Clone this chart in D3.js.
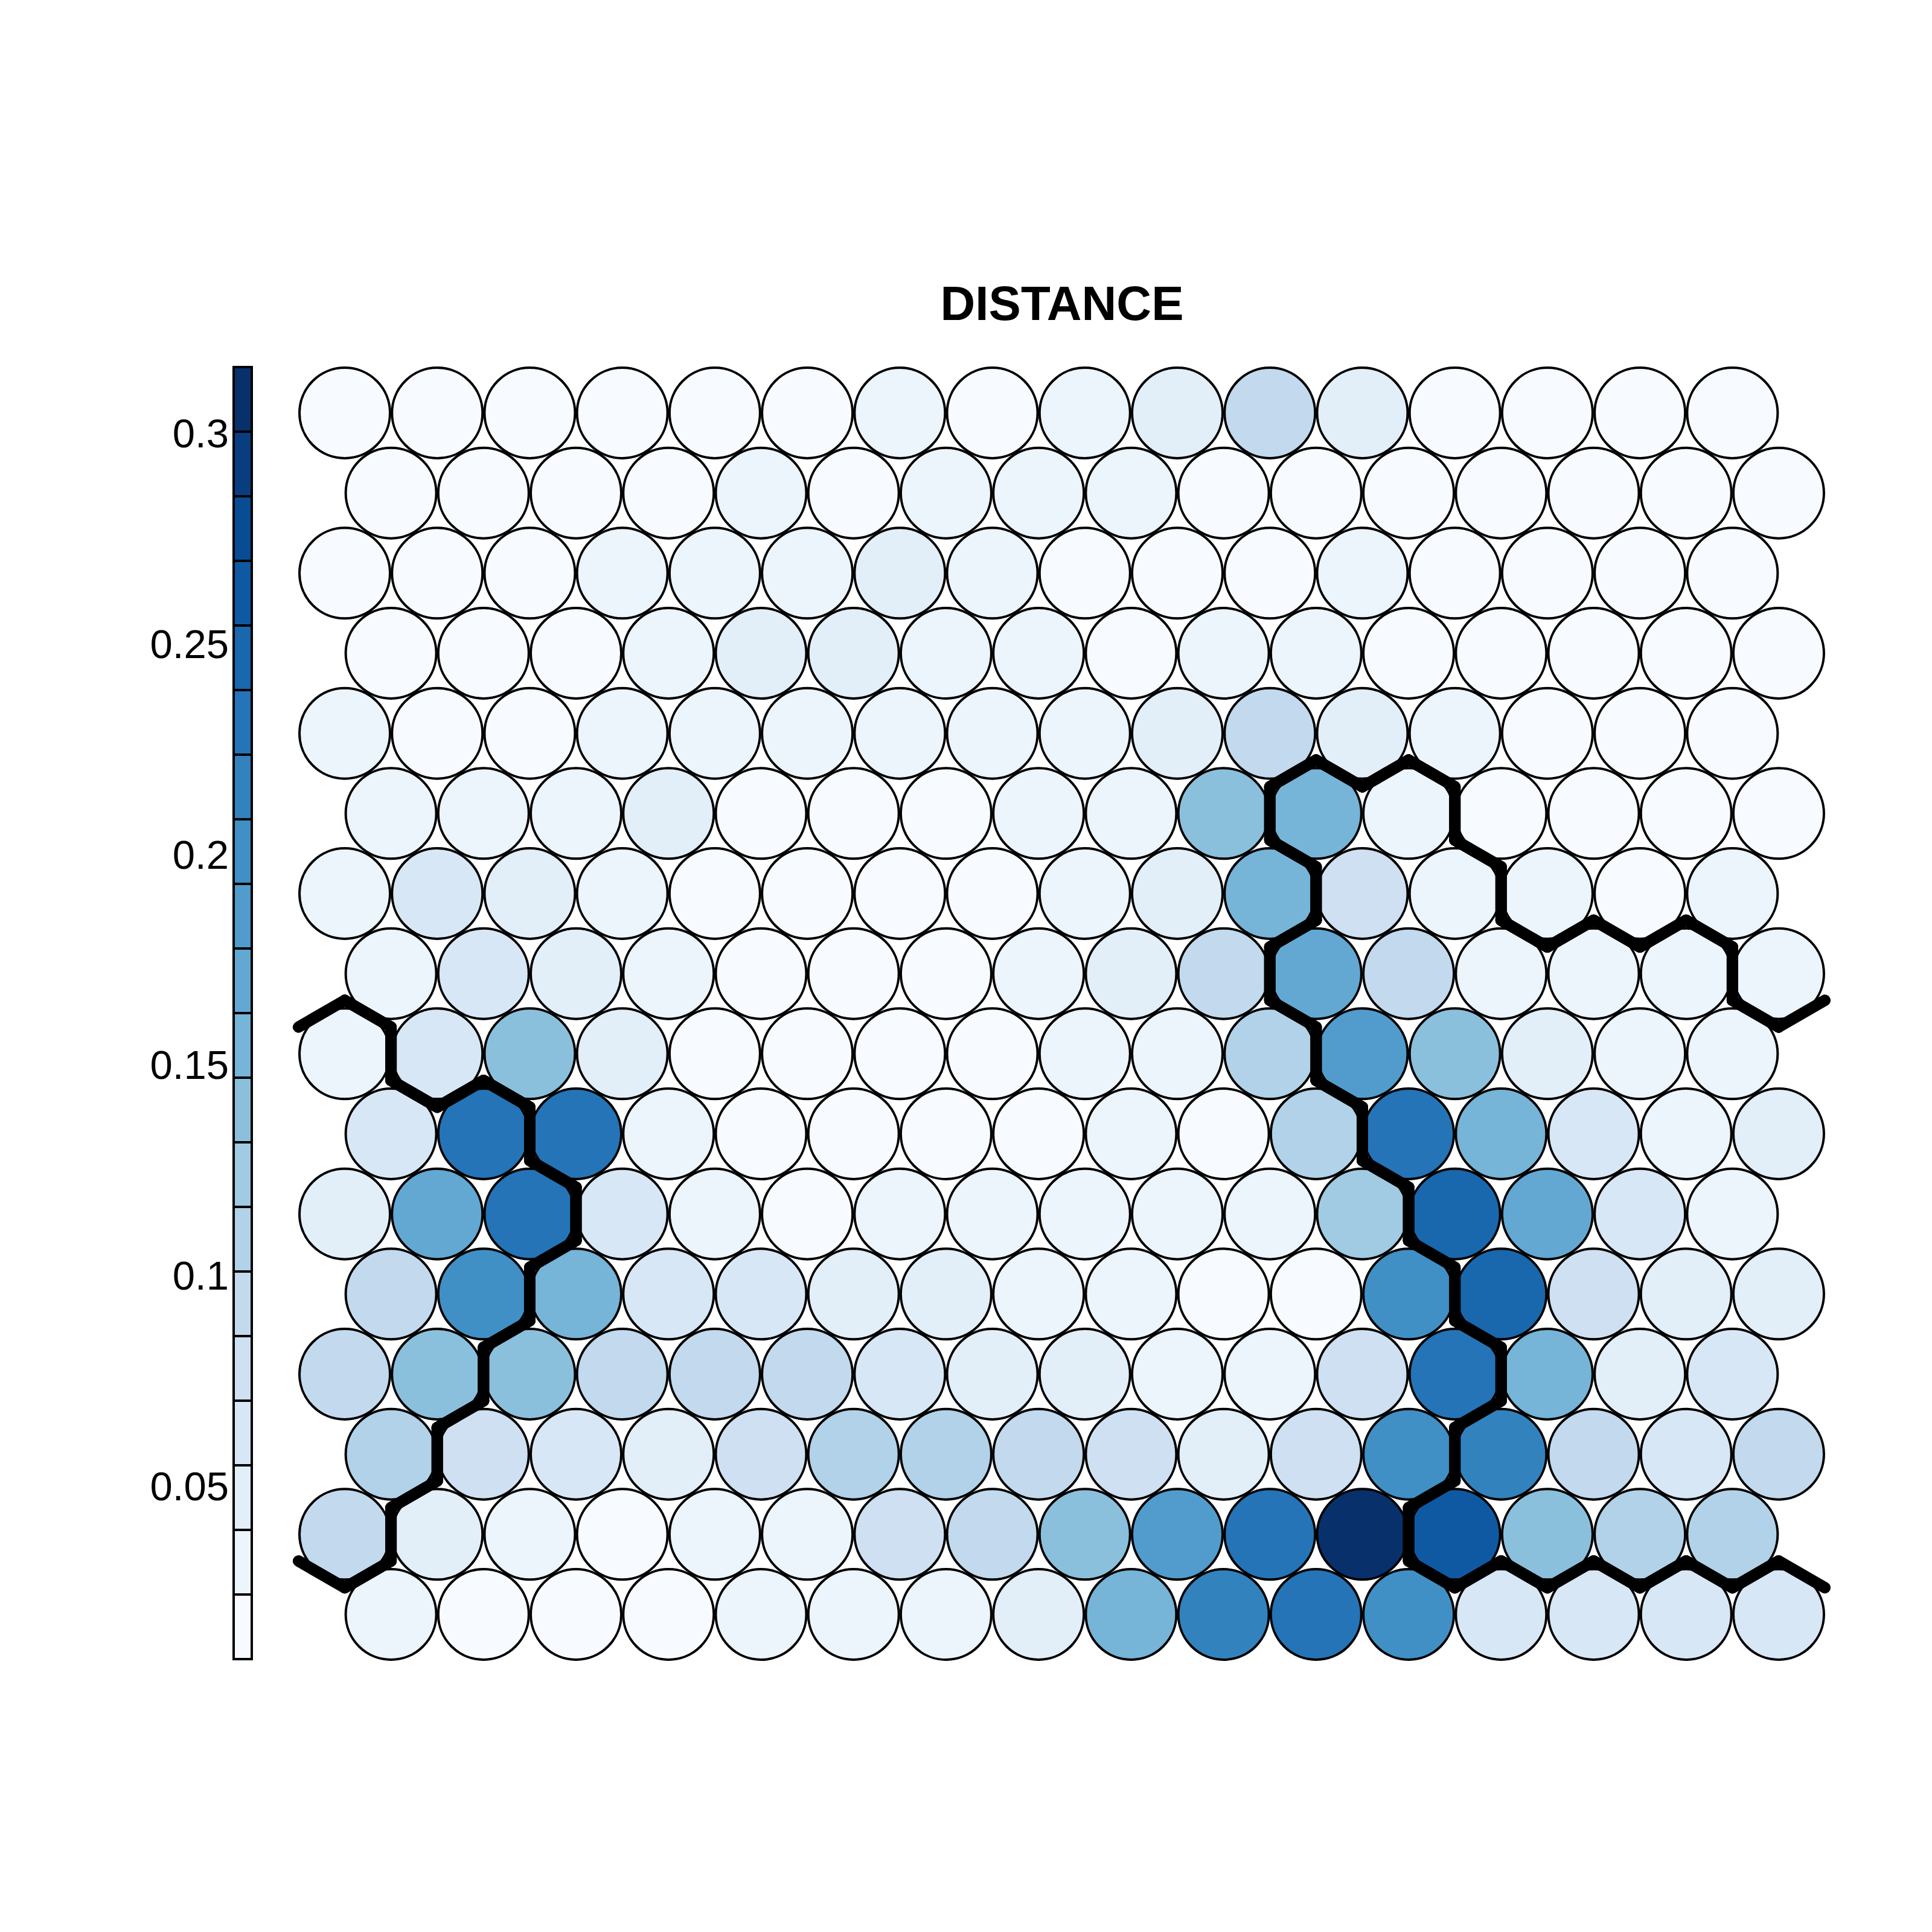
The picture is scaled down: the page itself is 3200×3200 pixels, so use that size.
<!DOCTYPE html>
<html>
<head>
<meta charset="utf-8">
<script src="https://cdn.jsdelivr.net/npm/d3@7"></script>
<style>
  html, body { margin: 0; background: #fff; }
  text { font-family: "Liberation Sans", Arial, sans-serif; fill: #000; }
</style>
</head>
<body>
<script>
const TITLE = "DISTANCE";
const legendTicks = [0.05, 0.1, 0.15, 0.2, 0.25, 0.3];
const legendDomain = [0.0087, 0.3156];
const levelCount = 20;

// neighbour distance per unit, top row first
const row01 = [0.016, 0.016, 0.016, 0.016, 0.016, 0.016, 0.031, 0.016, 0.031, 0.047, 0.093, 0.047, 0.016, 0.016, 0.016, 0.016];
const row02 = [0.016, 0.016, 0.016, 0.016, 0.031, 0.016, 0.031, 0.031, 0.031, 0.016, 0.016, 0.016, 0.016, 0.016, 0.016, 0.016];
const row03 = [0.016, 0.016, 0.016, 0.031, 0.031, 0.031, 0.047, 0.031, 0.016, 0.016, 0.016, 0.031, 0.016, 0.016, 0.016, 0.016];
const row04 = [0.016, 0.016, 0.016, 0.031, 0.047, 0.047, 0.031, 0.031, 0.016, 0.031, 0.031, 0.016, 0.016, 0.016, 0.016, 0.016];
const row05 = [0.031, 0.016, 0.016, 0.031, 0.031, 0.031, 0.031, 0.031, 0.031, 0.047, 0.093, 0.047, 0.031, 0.016, 0.016, 0.016];
const row06 = [0.031, 0.031, 0.031, 0.047, 0.016, 0.016, 0.016, 0.031, 0.031, 0.139, 0.154, 0.031, 0.016, 0.016, 0.016, 0.016];
const row07 = [0.031, 0.062, 0.047, 0.031, 0.016, 0.016, 0.016, 0.016, 0.031, 0.047, 0.154, 0.078, 0.031, 0.031, 0.016, 0.031];
const row08 = [0.031, 0.062, 0.047, 0.031, 0.016, 0.016, 0.016, 0.031, 0.047, 0.093, 0.170, 0.093, 0.031, 0.031, 0.031, 0.031];
const row09 = [0.031, 0.062, 0.139, 0.047, 0.016, 0.016, 0.016, 0.016, 0.031, 0.031, 0.108, 0.185, 0.139, 0.047, 0.031, 0.031];
const row10 = [0.062, 0.231, 0.231, 0.031, 0.016, 0.016, 0.016, 0.016, 0.031, 0.016, 0.108, 0.231, 0.154, 0.062, 0.031, 0.047];
const row11 = [0.047, 0.170, 0.231, 0.062, 0.031, 0.016, 0.031, 0.031, 0.031, 0.031, 0.031, 0.124, 0.247, 0.170, 0.062, 0.031];
const row12 = [0.093, 0.200, 0.154, 0.062, 0.062, 0.047, 0.047, 0.031, 0.031, 0.016, 0.016, 0.200, 0.247, 0.078, 0.047, 0.047];
const row13 = [0.093, 0.139, 0.139, 0.093, 0.093, 0.093, 0.062, 0.047, 0.047, 0.031, 0.031, 0.078, 0.231, 0.154, 0.047, 0.062];
const row14 = [0.108, 0.078, 0.062, 0.047, 0.078, 0.108, 0.108, 0.093, 0.078, 0.047, 0.078, 0.200, 0.216, 0.093, 0.062, 0.093];
const row15 = [0.093, 0.047, 0.031, 0.016, 0.031, 0.031, 0.078, 0.093, 0.139, 0.185, 0.231, 0.308, 0.262, 0.139, 0.108, 0.108];
const row16 = [0.031, 0.016, 0.016, 0.016, 0.031, 0.031, 0.031, 0.047, 0.154, 0.216, 0.231, 0.200, 0.062, 0.062, 0.062, 0.062];
const distanceRows = [row01, row02, row03, row04, row05, row06, row07, row08,
  row09, row10, row11, row12, row13, row14, row15, row16];

// cluster of each unit, boundaries are drawn where neighbours differ
const clusterRows = [
  "0000000000000000",
  "0000000000000000",
  "0000000000000000",
  "0000000000000000",
  "0000000000000000",
  "0000000000110000",
  "0000000000011000",
  "0000000000111110",
  "1000000000011111",
  "1100000000011111",
  "1110000000001111",
  "1100000000001111",
  "1100000000000111",
  "1000000000001111",
  "1000000000001111",
  "0000000000000000"
];

const nRows = distanceRows.length;
const nCols = row01.length;

const svg = d3.select("body").append("svg")
  .attr("width", 3200)
  .attr("height", 3200)
  .style("display", "block");

const x = d3.scaleLinear().domain([0, 15.5]).range([571, 2946]);
const y = d3.scaleLinear().domain([0, 15]).range([684, 2674]);

const ramp = d3.piecewise(d3.interpolateRgb, d3.schemeBlues[9]);
const colors = d3.quantize(ramp, levelCount);
const color = d3.scaleQuantize().domain(legendDomain).range(colors);

const isShifted = r => r % 2 === 1;
const cellX = (r, c) => x(c + (isShifted(r) ? 0.5 : 0));

const cells = distanceRows.flatMap((row, r) =>
  row.map((value, c) => ({ r, c, value }))
);

// title
svg.append("text")
  .attr("x", 1759)
  .attr("y", 530)
  .attr("text-anchor", "middle")
  .attr("font-weight", "bold")
  .attr("font-size", 80)
  .text(TITLE);

// legend
const legendY = d3.scaleLinear().domain(legendDomain).range([2748, 608]);
const legend = svg.append("g");
const thresholds = [legendDomain[0], ...color.thresholds(), legendDomain[1]];

legend.selectAll("rect")
  .data(colors)
  .join("rect")
  .attr("x", 387)
  .attr("width", 30)
  .attr("y", (d, i) => legendY(thresholds[i + 1]))
  .attr("height", (d, i) => legendY(thresholds[i]) - legendY(thresholds[i + 1]))
  .attr("fill", d => d)
  .attr("stroke", "#000")
  .attr("stroke-width", 4);

const legendAxis = svg.append("g")
  .attr("transform", "translate(379,0)")
  .call(d3.axisLeft(legendY).tickValues(legendTicks).tickSize(0).tickPadding(0).tickFormat(d => `${d}`));
legendAxis.select(".domain").remove();
legendAxis.selectAll("text")
  .attr("font-family", null)
  .attr("font-size", 67)
  .attr("dy", "0.36em");

// units
svg.append("g").selectAll("circle")
  .data(cells)
  .join("circle")
  .attr("cx", d => cellX(d.r, d.c))
  .attr("cy", d => y(d.r))
  .attr("r", 75)
  .attr("fill", d => color(d.value))
  .attr("stroke", "#000")
  .attr("stroke-width", 4);

// cluster boundaries, the map wraps around so edge units also test the far side
const dx = (x(1) - x(0)) / 2;
const hexR = (y(1) - y(0)) / 1.5;
const corners = [
  [0, -hexR], [dx, -hexR / 2], [dx, hexR / 2],
  [0, hexR], [-dx, hexR / 2], [-dx, -hexR / 2]
];

const neighbours = ({ r, c }) => {
  const s = isShifted(r) ? 1 : 0;
  return [
    [r - 1, c + s], [r, c + 1], [r + 1, c + s],
    [r + 1, c + s - 1], [r, c - 1], [r - 1, c + s - 1]
  ];
};

const clusterAt = (r, c) =>
  clusterRows[(r + nRows) % nRows][(c + nCols) % nCols];

const edges = cells.flatMap(cell =>
  neighbours(cell).flatMap(([nr, nc], i) => {
    if (clusterAt(nr, nc) === clusterAt(cell.r, cell.c)) return [];
    const cx = cellX(cell.r, cell.c);
    const cy = y(cell.r);
    const a = corners[i];
    const b = corners[(i + 1) % 6];
    return [[[cx + a[0], cy + a[1]], [cx + b[0], cy + b[1]]]];
  })
);

svg.append("g").selectAll("path")
  .data(edges)
  .join("path")
  .attr("d", d3.line())
  .attr("fill", "none")
  .attr("stroke", "#000")
  .attr("stroke-width", 19)
  .attr("stroke-linecap", "round");
</script>
</body>
</html>
